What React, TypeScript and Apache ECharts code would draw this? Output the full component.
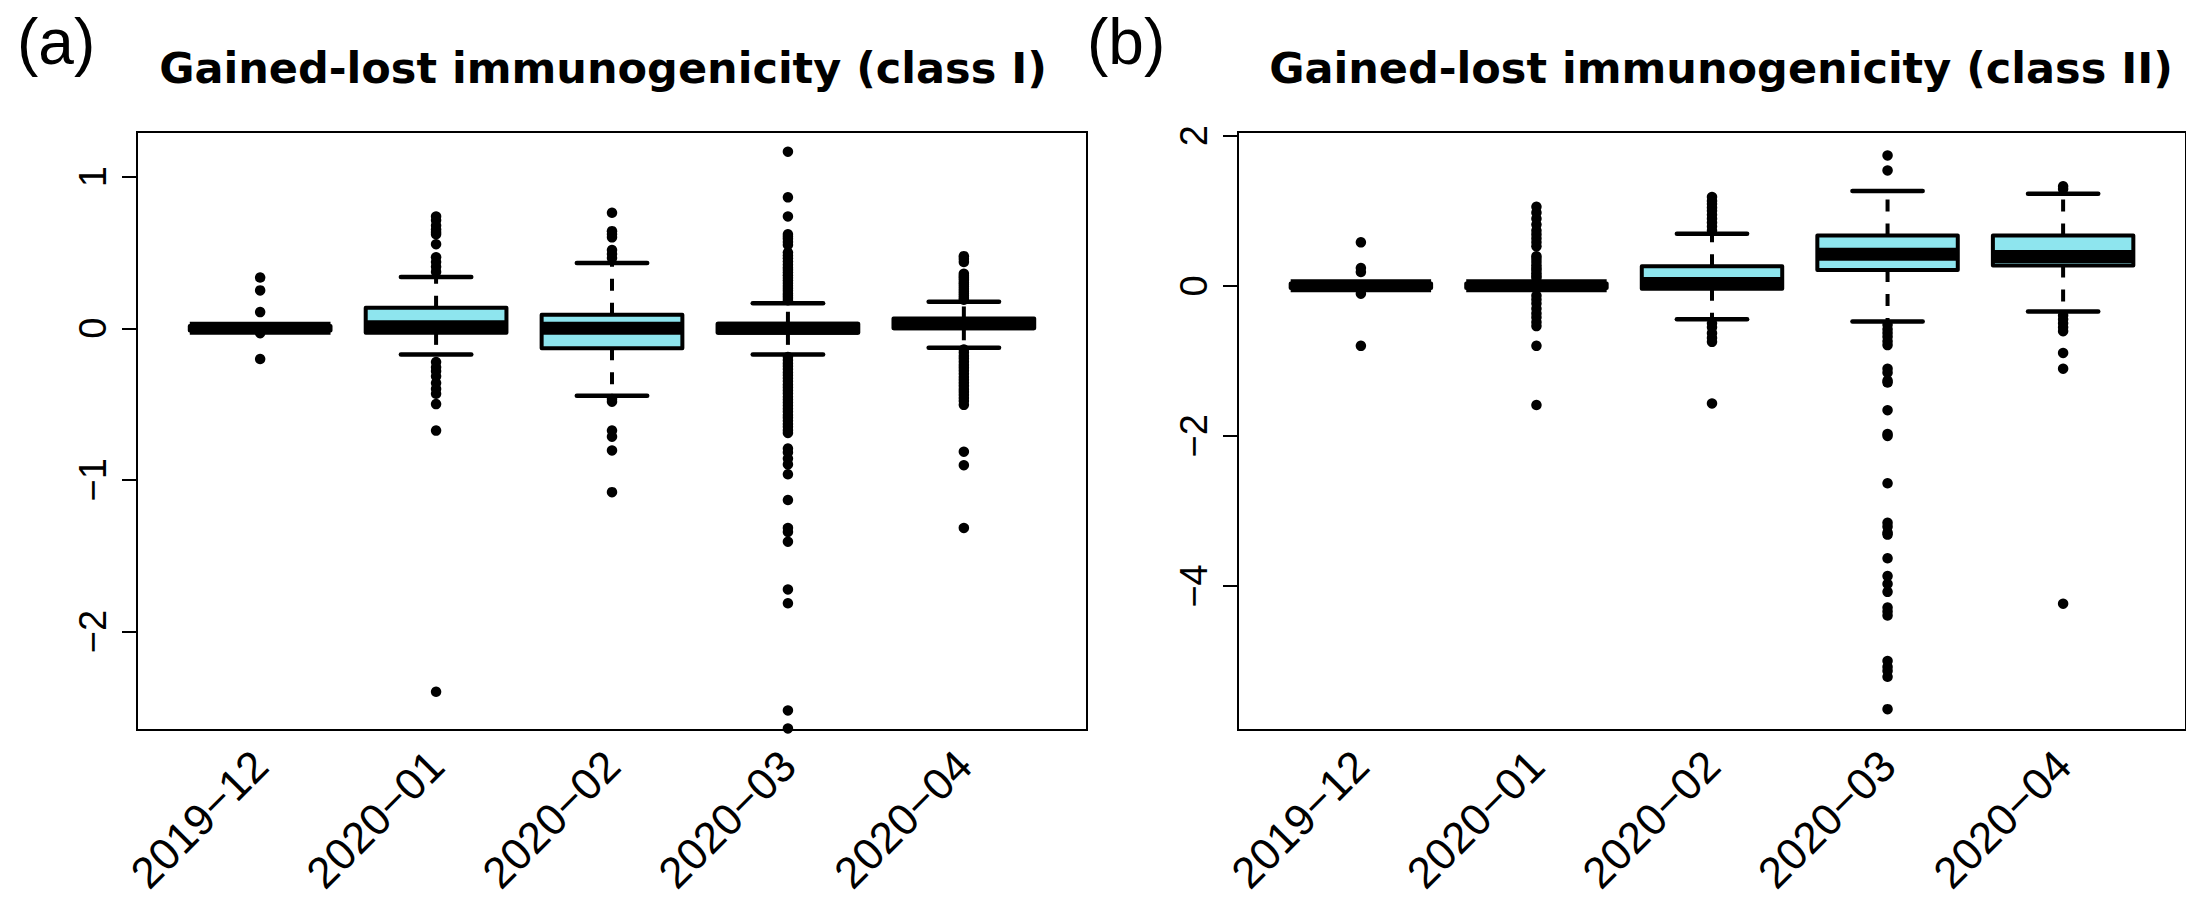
import React, { useEffect, useRef } from "react";
import * as echarts from "echarts";

const categories = ["2019−12", "2020−01", "2020−02", "2020−03", "2020−04"];
const positions = [1, 2, 3, 4, 5];

const titleI = "Gained-lost immunogenicity (class I)";
const titleII = "Gained-lost immunogenicity (class II)";

const ticksI = [-2, -1, 0, 1];
const ticksII = [-4, -2, 0, 2];

// class I box statistics
const lowerI = [-0.015, -0.173, -0.445, -0.173, -0.128];
const q1I = [-0.015, -0.03, -0.131, -0.03, 0.0];
const medianI = [0, 0.01, 0, 0, 0.03];
const q3I = [0.015, 0.135, 0.09, 0.03, 0.065];
const upperI = [0.015, 0.338, 0.43, 0.165, 0.175];

const outliersI: number[][] = [
  [0.335, 0.25, 0.107, -0.032, -0.203],
  [0.738, 0.712, 0.678, 0.652, 0.634, 0.62, 0.555, 0.469, 0.437, 0.406, 0.372,
    -0.223, -0.257, -0.283, -0.317, -0.361, -0.4, -0.432, -0.5, -0.675, -2.398],
  [0.762, 0.641, 0.62, 0.6, 0.516, 0.49, 0.463,
    -0.466, -0.484, -0.675, -0.715, -0.806, -1.081],
  [1.165, 0.864, 0.738, 0.62, 0.605, 0.59, 0.57, 0.55, 0.5, 0.48, 0.462, 0.44, 0.42,
    0.4, 0.385, 0.368, 0.35, 0.332, 0.315, 0.298, 0.28, 0.265, 0.248, 0.23, 0.215, 0.2, 0.185,
    -0.19, -0.21, -0.232, -0.25, -0.27, -0.292, -0.31, -0.33, -0.35, -0.372, -0.39, -0.41,
    -0.43, -0.452, -0.47, -0.49, -0.51, -0.53, -0.55, -0.572, -0.59, -0.61, -0.632, -0.65,
    -0.672, -0.69, -0.793, -0.819, -0.859, -0.898, -0.963, -1.133, -1.317, -1.343,
    -1.408, -1.723, -1.814, -2.521, -2.64],
  [0.476, 0.458, 0.437, 0.36, 0.345, 0.332, 0.318, 0.302, 0.29, 0.275, 0.26, 0.245,
    0.23, 0.215, 0.2, 0.188,
    -0.14, -0.16, -0.182, -0.2, -0.22, -0.242, -0.26, -0.28, -0.3, -0.322, -0.34, -0.36,
    -0.38, -0.402, -0.42, -0.44, -0.46, -0.48, -0.505, -0.814, -0.903, -1.317],
];

// class II box statistics
const lowerII = [-0.03, -0.03, -0.447, -0.474, -0.342];
const q1II = [-0.03, -0.03, -0.04, 0.21, 0.27];
const medianII = [0, 0, 0.03, 0.42, 0.39];
const q3II = [0.03, 0.03, 0.26, 0.67, 0.67];
const upperII = [0.03, 0.03, 0.695, 1.263, 1.226];

const outliersII: number[][] = [
  [0.579, 0.237, 0.184, -0.105, -0.8],
  [1.053, 0.974, 0.895, 0.816, 0.737, 0.684, 0.632, 0.579, 0.526, 0.395, 0.358, 0.316,
    0.274, 0.237, 0.21, 0.168, 0.132, 0.105,
    -0.132, -0.184, -0.237, -0.305, -0.368, -0.421, -0.484, -0.537, -0.8, -1.589],
  [1.184, 1.132, 1.089, 1.042, 1.0, 0.947, 0.895, 0.842, 0.789, 0.737,
    -0.5, -0.553, -0.632, -0.695, -0.747, -1.568],
  [1.737, 1.537, -0.52, -0.58, -0.63, -0.68, -0.74, -0.79, -1.105, -1.158, -1.263,
    -1.289, -1.658, -1.974, -2.0, -2.632, -3.158, -3.211, -3.289, -3.316, -3.632,
    -3.868, -3.974, -4.079, -4.289, -4.342, -4.395, -5.0, -5.079, -5.132, -5.211, -5.642],
  [1.326, 1.289, -0.395, -0.447, -0.5, -0.553, -0.605, -0.895, -1.105, -4.237],
];

const FILL = "#8EE5EE";

function boxData(lo: number[], q1: number[], med: number[], q3: number[], hi: number[]) {
  return positions.map((p, i) => [p, lo[i], q1[i], med[i], q3[i], hi[i]]);
}

function outlierData(out: number[][]) {
  const res: number[][] = [];
  out.forEach((arr, i) => arr.forEach((v) => res.push([positions[i], v])));
  return res;
}

function renderBox(params: any, api: any) {
  const x = api.value(0);
  const lo = api.value(1);
  const q1 = api.value(2);
  const med = api.value(3);
  const q3 = api.value(4);
  const hi = api.value(5);
  const pLo = api.coord([x, lo]);
  const pQ1 = api.coord([x, q1]);
  const pMed = api.coord([x, med]);
  const pQ3 = api.coord([x, q3]);
  const pHi = api.coord([x, hi]);
  const unit = api.size([1, 0])[0];
  const cx = pMed[0];
  const hb = 0.4 * unit;
  const hs = 0.2 * unit;
  const dash = { stroke: "#000", lineWidth: 4, lineDash: [12, 12], lineCap: "butt" };
  const solid = { stroke: "#000", lineWidth: 4.5, lineCap: "round" };
  return {
    type: "group",
    children: [
      { type: "line", shape: { x1: cx, y1: pQ3[1], x2: cx, y2: pHi[1] }, style: dash },
      { type: "line", shape: { x1: cx, y1: pQ1[1], x2: cx, y2: pLo[1] }, style: dash },
      { type: "line", shape: { x1: cx - hs, y1: pHi[1], x2: cx + hs, y2: pHi[1] }, style: solid },
      { type: "line", shape: { x1: cx - hs, y1: pLo[1], x2: cx + hs, y2: pLo[1] }, style: solid },
      {
        type: "rect",
        shape: { x: cx - hb, y: pQ3[1], width: 2 * hb, height: pQ1[1] - pQ3[1] },
        style: { fill: FILL, stroke: "#000", lineWidth: 4, lineJoin: "round" },
      },
      {
        type: "line",
        shape: { x1: cx - hb, y1: pMed[1], x2: cx + hb, y2: pMed[1] },
        style: { stroke: "#000", lineWidth: 13, lineCap: "butt" },
      },
    ],
  };
}

const fmtNum = (v: number) => (v < 0 ? "−" + Math.abs(v) : String(v));

function xAxisFor(gridIndex: number) {
  return {
    type: "value",
    gridIndex,
    min: 0.3,
    max: 5.7,
    axisLine: { show: false },
    axisTick: { show: false },
    splitLine: { show: false },
    axisLabel: {
      customValues: positions,
      formatter: (v: number) => categories[Math.round(v) - 1] ?? "",
      rotate: 45,
      margin: 28,
      fontSize: 44,
      fontFamily: "Liberation Sans",
      color: "#000",
    },
  };
}

function yAxisFor(gridIndex: number, min: number, max: number, ticks: number[]) {
  return {
    type: "value",
    gridIndex,
    min,
    max,
    axisLine: { show: true, lineStyle: { color: "#000", width: 2 } },
    axisTick: { show: true, length: 15, customValues: ticks, lineStyle: { color: "#000", width: 2 } },
    splitLine: { show: false },
    axisLabel: {
      customValues: ticks,
      formatter: fmtNum,
      rotate: 90,
      margin: 25,
      fontSize: 38,
      fontFamily: "Liberation Sans",
      color: "#000",
    },
  };
}

export default function App() {
  const ref = useRef<HTMLDivElement>(null);
  useEffect(() => {
    if (!ref.current) return;
    const chart = echarts.init(ref.current, undefined, { renderer: "svg" });
    const titleStyle = {
      fontSize: 43,
      fontFamily: "DejaVu Sans",
      fontWeight: "bold",
      fill: "#000",
      align: "center",
      verticalAlign: "top",
    };
    const tagStyle = {
      fontSize: 64,
      fontFamily: "Liberation Sans",
      fill: "#000",
      align: "left",
      verticalAlign: "top",
    };
    chart.setOption({
      animation: false,
      backgroundColor: "#fff",
      grid: [
        { left: 137, top: 132, width: 950, height: 598, show: true, borderColor: "#000", borderWidth: 2, backgroundColor: "transparent" },
        { left: 1238, top: 132, width: 950, height: 598, show: true, borderColor: "#000", borderWidth: 2, backgroundColor: "transparent" },
      ],
      xAxis: [xAxisFor(0), xAxisFor(1)],
      yAxis: [yAxisFor(0, -2.65, 1.295, ticksI), yAxisFor(1, -5.92, 2.05, ticksII)],
      graphic: [
        { type: "text", x: 603, y: 46, style: { ...titleStyle, text: titleI } },
        { type: "text", x: 1721, y: 46, style: { ...titleStyle, text: titleII } },
        { type: "text", x: 17, y: 10, style: { ...tagStyle, text: "(a)" } },
        { type: "text", x: 1087, y: 10, style: { ...tagStyle, text: "(b)" } },
      ],
      series: [
        {
          type: "custom",
          xAxisIndex: 0,
          yAxisIndex: 0,
          renderItem: renderBox,
          data: boxData(lowerI, q1I, medianI, q3I, upperI),
          encode: { x: 0, y: [1, 2, 3, 4, 5] },
          clip: false,
          z: 2,
        },
        {
          type: "scatter",
          xAxisIndex: 0,
          yAxisIndex: 0,
          data: outlierData(outliersI),
          symbol: "circle",
          symbolSize: 10.5,
          itemStyle: { color: "#000", opacity: 1 },
          clip: false,
          z: 3,
        },
        {
          type: "custom",
          xAxisIndex: 1,
          yAxisIndex: 1,
          renderItem: renderBox,
          data: boxData(lowerII, q1II, medianII, q3II, upperII),
          encode: { x: 0, y: [1, 2, 3, 4, 5] },
          clip: false,
          z: 2,
        },
        {
          type: "scatter",
          xAxisIndex: 1,
          yAxisIndex: 1,
          data: outlierData(outliersII),
          symbol: "circle",
          symbolSize: 10.5,
          itemStyle: { color: "#000", opacity: 1 },
          clip: false,
          z: 3,
        },
      ],
    });
    return () => chart.dispose();
  }, []);
  return (
    <div
      ref={ref}
      style={{ position: "fixed", left: 0, top: 0, width: 2186, height: 899, background: "#fff" }}
    />
  );
}
